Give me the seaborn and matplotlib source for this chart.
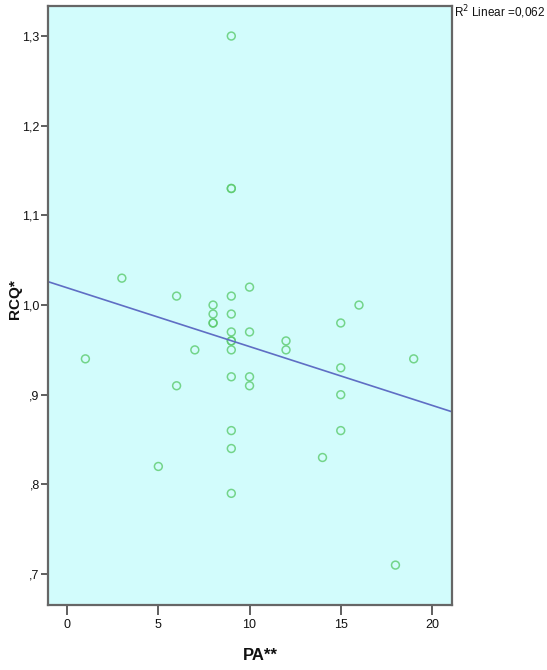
import numpy as np
import pandas as pd
import matplotlib
matplotlib.use("Agg")
import matplotlib.pyplot as plt
import seaborn as sns
from matplotlib import font_manager
from matplotlib.ticker import FuncFormatter

# Physical activity score and waist-to-hip ratio per participant
pa = [1, 3, 5, 6, 6, 7, 8, 8, 8, 8, 9, 9, 9, 9, 9, 9, 9, 9, 9, 9, 9, 9, 9,
      10, 10, 10, 10, 12, 12, 14, 15, 15, 15, 15, 16, 18, 19]
rcq = [0.94, 1.03, 0.82, 1.01, 0.91, 0.95, 1.00, 0.99, 0.98, 0.98,
       1.30, 1.13, 1.13, 1.01, 0.99, 0.97, 0.96, 0.95, 0.92, 0.86, 0.84, 0.79, 0.96,
       1.02, 0.97, 0.92, 0.91, 0.96, 0.95, 0.83, 0.98, 0.93, 0.90, 0.86, 1.00, 0.71, 0.94]
x_ticks = [0, 5, 10, 15, 20]
y_ticks = [0.7, 0.8, 0.9, 1.0, 1.1, 1.2, 1.3]

df = pd.DataFrame({"PA": pa, "RCQ": rcq})
r2 = np.corrcoef(df["PA"], df["RCQ"])[0, 1] ** 2

sns.set_style("ticks")
installed = {f.name for f in font_manager.fontManager.ttflist}
narrow = "Liberation Sans Narrow" in installed
plt.rcParams["font.family"] = (["Liberation Sans Narrow"] if narrow else []) + \
    ["Liberation Sans", "DejaVu Sans"]
tick_size = 10.5 if narrow else 9

fig = plt.figure(figsize=(5.47, 6.70), dpi=100)
ax = fig.add_axes([48 / 547, 1 - 605 / 670, 404 / 547, 599 / 670])
ax.set_facecolor("#d2fcfc")
ax.set_xlim(-1.05, 21.1)
ax.set_ylim(0.6655, 1.3335)

sns.regplot(data=df, x="PA", y="RCQ", ax=ax, ci=None, truncate=False,
            scatter_kws=dict(s=32, facecolors="none", edgecolors="#5ccb6e", linewidths=1.1),
            line_kws=dict(color="#5f6ec4", linewidth=1.2))

ax.set_xticks(x_ticks)
ax.set_yticks(y_ticks)
ax.yaxis.set_major_formatter(FuncFormatter(
    lambda v, _: ("%.1f" % v).replace("0.", ".").replace(".", ",")))
ax.tick_params(direction="out", length=5, width=1.2, color="#444444",
               labelsize=tick_size, labelcolor="#111111")
ax.tick_params(axis="y", pad=1)
ax.tick_params(axis="x", length=7, pad=3)
for sp in ax.spines.values():
    sp.set_color("#666666")
    sp.set_linewidth(1.6)

ax.set_xlabel("PA**", fontsize=12, fontweight="bold", color="#111111")
ax.set_ylabel("RCQ*", fontsize=11, fontweight="bold", color="#111111",
              family=["Liberation Sans", "DejaVu Sans"])
ax.xaxis.set_label_coords((260 - 48) / 404, (605 - 655) / 599)
ax.yaxis.set_label_coords((15 - 48) / 404, (605 - 299) / 599)
ax.xaxis.label.set_va("center")
ax.yaxis.label.set_va("center")

fig.text(454 / 547, 1 - 12 / 670,
         "R$^{2}$ Linear =" + ("%.3f" % r2).replace("0.", "0,"),
         fontsize=8.5, va="center", ha="left", color="#111111")

fig.savefig("out.png", dpi=100)
